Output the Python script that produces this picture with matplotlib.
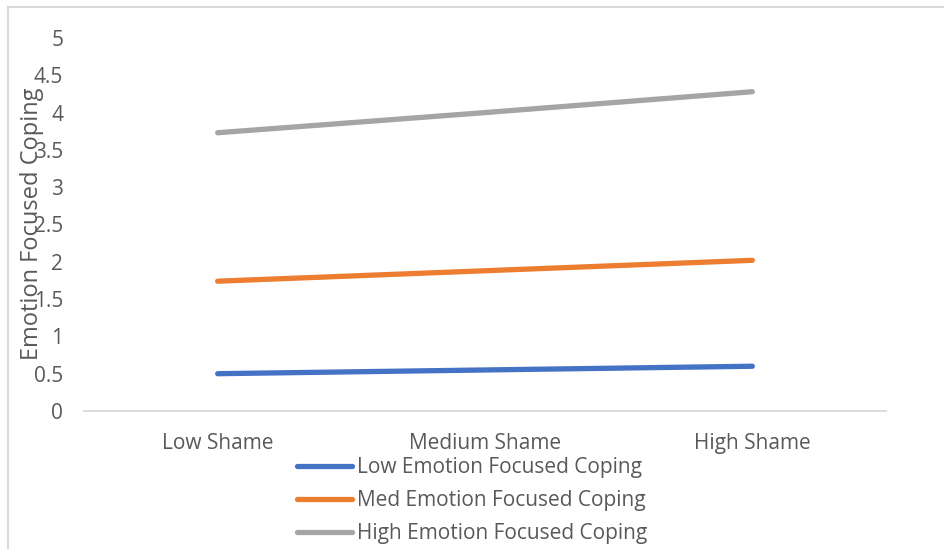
import matplotlib
matplotlib.use("Agg")
import matplotlib.pyplot as plt
from matplotlib.patches import Rectangle

categories = ["Low Shame", "Medium Shame", "High Shame"]
series_names = ["Low Emotion Focused Coping", "Med Emotion Focused Coping", "High Emotion Focused Coping"]
low_coping = [0.50, 0.55, 0.60]
med_coping = [1.74, 1.88, 2.02]
high_coping = [3.73, 4.00, 4.28]
colors = ["#4472C4", "#ED7D31", "#A5A5A5"]
yticks = [0, 0.5, 1, 1.5, 2, 2.5, 3, 3.5, 4, 4.5, 5]

plt.rcParams["font.family"] = ["Open Sans", "DejaVu Sans"]
text_color = "#595959"

W, H = 945, 549
fig = plt.figure(figsize=(W / 100, H / 100), dpi=100)

# chart border, runs off the right and bottom edges
fig.patches.append(Rectangle((8 / W, -0.1), 1.2, 1 - 7 / H + 0.1, transform=fig.transFigure,
                             fill=False, edgecolor="#d9d9d9", linewidth=1.5))

ax = fig.add_axes([84 / W, (H - 411) / H, (886 - 84) / W, (411 - 38) / H])
x = range(len(categories))
for vals, name, c in zip([low_coping, med_coping, high_coping], series_names, colors):
    ax.plot(x, vals, color=c, linewidth=3.8, solid_capstyle="round", label=name)

ax.set_xlim(-0.5, len(categories) - 0.5)
ax.set_ylim(0, 5)
ax.set_yticks(yticks)
ax.set_yticklabels(["{:g}".format(t) for t in yticks])
ax.set_xticks(list(x))
ax.set_xticklabels(categories)
for s in ["top", "right", "left"]:
    ax.spines[s].set_visible(False)
ax.spines["bottom"].set_color("#d9d9d9")
ax.spines["bottom"].set_linewidth(1.3)
ax.tick_params(axis="both", length=0, labelsize=15, colors=text_color)
ax.tick_params(axis="y", pad=15)
ax.tick_params(axis="x", pad=16)

fig.text(32 / W, 1 - 224 / H, "Emotion Focused Coping", rotation=90, ha="center", va="center",
         fontsize=17, color=text_color)

fig.legend(loc="upper left", bbox_to_anchor=(289 / W, 1 - 449 / H), frameon=False,
           fontsize=15, handlelength=2.64, handletextpad=0.22, labelspacing=0.58,
           labelcolor=text_color, borderaxespad=0)

fig.savefig("out.png", dpi=100)
